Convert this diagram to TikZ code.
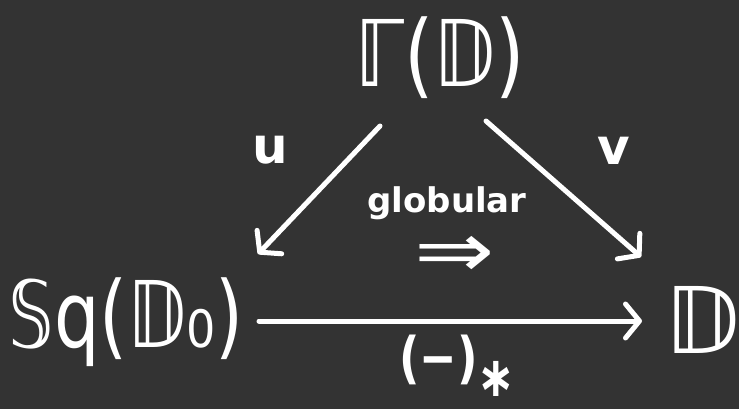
\documentclass[tikz,border=0pt]{standalone}
\usepackage{fontspec}
\setmainfont{DejaVu Sans}
\usetikzlibrary{arrows.meta}
\definecolor{bg}{HTML}{333333}
\tikzset{
  obj/.style={text=white, inner sep=0pt, font=\fontsize{92}{92}\selectfont},
  lbl/.style={text=white, inner sep=0pt, font=\bfseries\fontsize{50}{50}\selectfont},
  small/.style={text=white, inner sep=0pt, font=\bfseries\fontsize{34}{34}\selectfont},
  arr/.style={draw=white, line width=5pt, line cap=round,
    -{Straight Barb[length=14pt,width=34pt,line cap=round,line join=round]}},
}
\begin{document}
\begin{tikzpicture}[x=1pt,y=-1pt]
\fill[bg] (0,0) rectangle (739,409);
\useasboundingbox (0,0) rectangle (739,409);
\node[obj, xscale=0.82] (top) at (440,58) {ℾ(𝔻)};
\node[obj, xscale=0.78] (left) at (126,322) {𝕊q(𝔻₀)};
\node[obj] (right) at (702,320) {𝔻};
\coordinate (us) at (380,126);
\coordinate (ue) at (258,254);
\coordinate (vs) at (486,121);
\coordinate (ve) at (641,257);
\coordinate (bs) at (259,321);
\coordinate (be) at (642,321);
\draw[arr] (us) -- (ue);
\draw[arr] (vs) -- (ve);
\draw[arr] (bs) -- (be);
\node[lbl] (u) at (270,150) {u};
\node[lbl] (v) at (614,151) {v};
\node[small] (glob) at (447,203) {globular};
\node[lbl, font=\fontsize{60}{60}\selectfont, xscale=1.6, yscale=1.3] (dbl) at (455,257) {⇒};
\node[lbl, anchor=west, xscale=0.8, font=\bfseries\fontsize{56}{56}\selectfont] (star) at (399,366) {(−)\raisebox{-19pt}{\fontsize{56}{56}\selectfont ∗}};
\end{tikzpicture}
\end{document}
